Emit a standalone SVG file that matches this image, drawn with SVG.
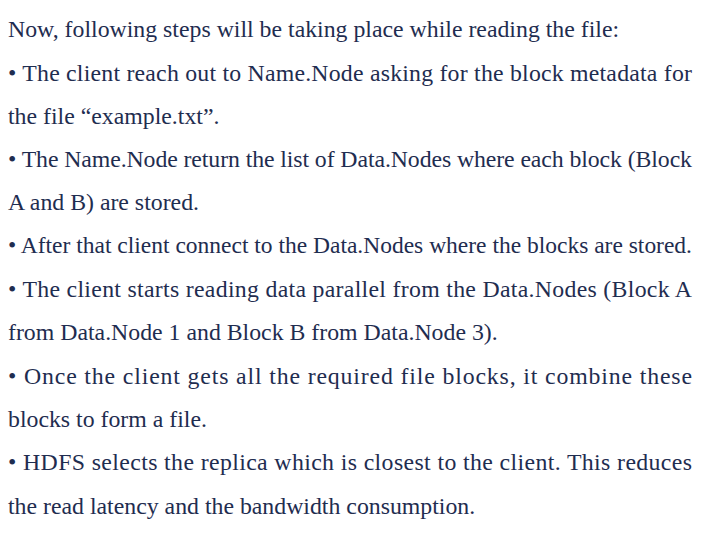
<svg xmlns="http://www.w3.org/2000/svg" width="720" height="540" viewBox="0 0 720 540">
<style>text{font-family:"Liberation Serif","Times New Roman",serif;font-size:23.8px;fill:#1F2D50}</style>
<rect width="720" height="540" fill="#fff"/>
<text x="8" y="37">Now, following steps will be taking place while reading the file:</text>
<text x="8" y="81" textLength="684" lengthAdjust="spacing">• The client reach out to Name.Node asking for the block metadata for</text>
<text x="8" y="124">the file “example.txt”.</text>
<text x="8" y="167" textLength="684" lengthAdjust="spacing">• The Name.Node return the list of Data.Nodes where each block (Block</text>
<text x="8" y="210">A and B) are stored.</text>
<text x="8" y="253" textLength="684" lengthAdjust="spacingAndGlyphs">• After that client connect to the Data.Nodes where the blocks are stored.</text>
<text x="8" y="297" textLength="684" lengthAdjust="spacing">• The client starts reading data parallel from the Data.Nodes (Block A</text>
<text x="8" y="340">from Data.Node 1 and Block B from Data.Node 3).</text>
<text x="8" y="384" textLength="684" lengthAdjust="spacing">• Once the client gets all the required file blocks, it combine these</text>
<text x="8" y="427">blocks to form a file.</text>
<text x="8" y="470" textLength="684" lengthAdjust="spacing">• HDFS selects the replica which is closest to the client. This reduces</text>
<text x="8" y="514">the read latency and the bandwidth consumption.</text>
</svg>
